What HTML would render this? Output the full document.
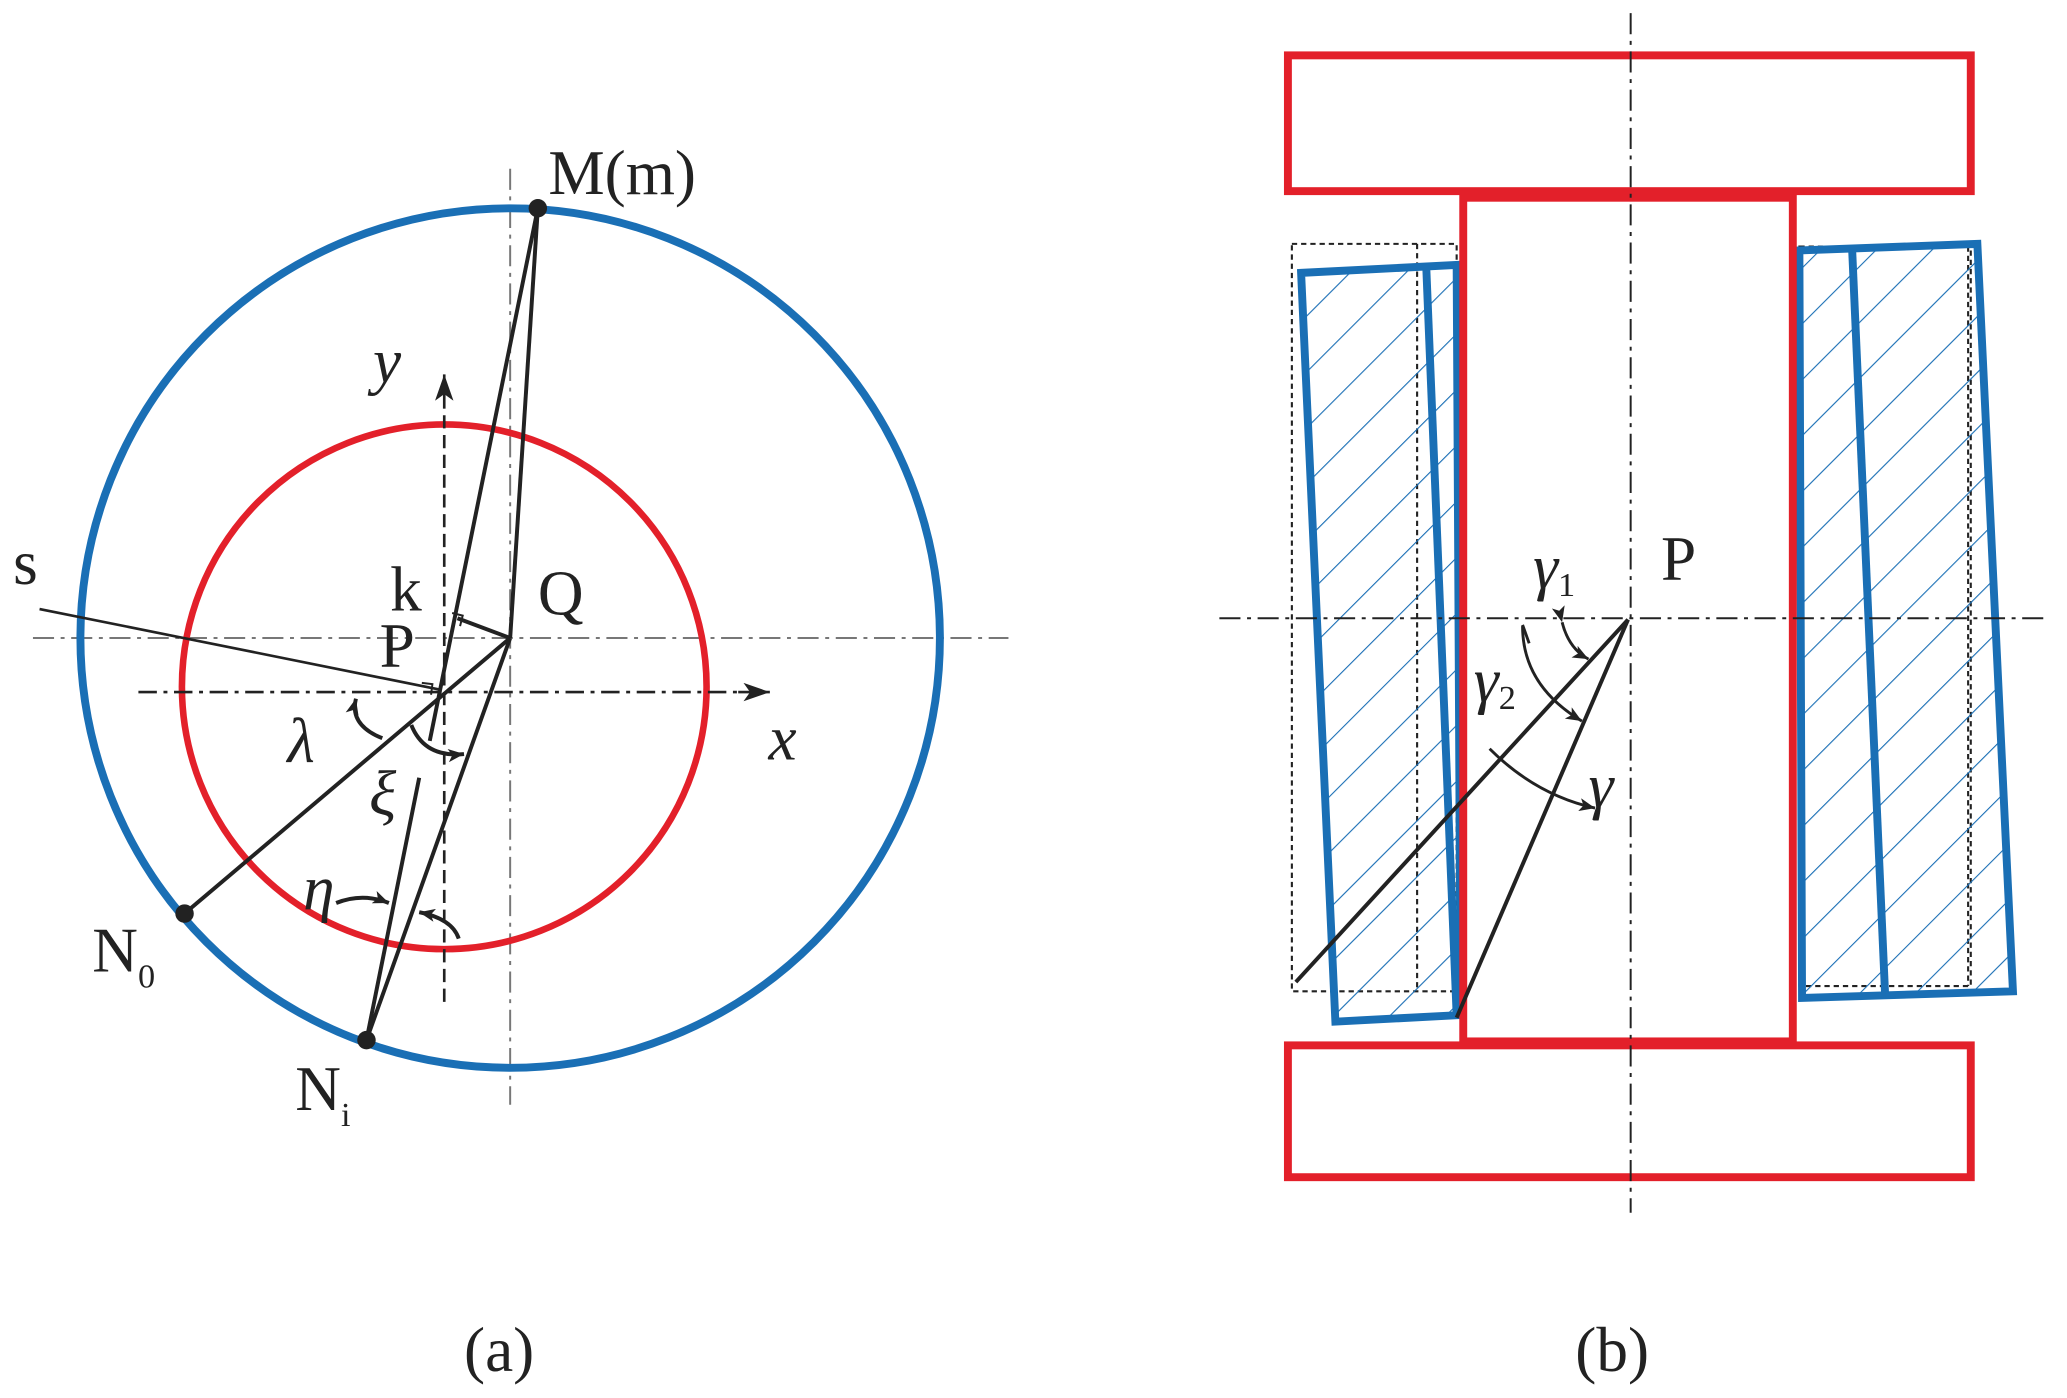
<!DOCTYPE html>
<html><head><meta charset="utf-8"><style>html,body{margin:0;padding:0;background:#fff}svg{display:block}</style></head>
<body>
<svg width="2067" height="1398" viewBox="0 0 1568 1060.5" preserveAspectRatio="none" xmlns="http://www.w3.org/2000/svg" font-family="Liberation Serif, serif">
<defs>
<pattern id="h" patternUnits="userSpaceOnUse" width="30" height="30" patternTransform="rotate(-45)">
<line x1="0" y1="0" x2="30" y2="0" stroke="#1a6fb5" stroke-width="1.6"/>
</pattern>
<marker id="ar2" viewBox="0 0 20 14" markerWidth="20" markerHeight="14" refX="20" refY="7" orient="auto" markerUnits="userSpaceOnUse"><path d="M0,0 L20,7 L0,14 L5,7 z" fill="#222"/></marker>
<marker id="sa" viewBox="0 0 12 10" markerWidth="12" markerHeight="10" refX="12" refY="5" orient="auto" markerUnits="userSpaceOnUse"><path d="M0,0 L12,5 L0,10 L3,5 z" fill="#222"/></marker>
</defs>
<!-- panel a -->
<g stroke="#777" stroke-width="1.5" stroke-dasharray="16,5,3,5" fill="none">
<line x1="25" y1="484" x2="765" y2="484"/>
<line x1="387" y1="128" x2="387" y2="838"/>
</g>
<circle cx="387" cy="484" r="326" fill="none" stroke="#1a6fb5" stroke-width="6"/>
<circle cx="337" cy="521" r="199" fill="none" stroke="#e3202a" stroke-width="5"/>
<g stroke="#222" stroke-width="2" fill="none">
<line x1="105" y1="525" x2="560" y2="525" stroke-dasharray="14,5,3,5"/>
<line x1="560" y1="525" x2="584" y2="525" marker-end="url(#ar2)"/>
<line x1="337" y1="760" x2="337" y2="310" stroke-dasharray="10,5"/>
<line x1="337" y1="310" x2="337" y2="284" marker-end="url(#ar2)"/>
</g>
<g stroke="#222" stroke-width="3" fill="none">
<line x1="408" y1="158" x2="387" y2="484"/>
<line x1="408" y1="158" x2="326" y2="562"/>
<line x1="387" y1="484" x2="278" y2="789"/>
<line x1="278" y1="789" x2="318" y2="590"/>
<line x1="140" y1="693" x2="387" y2="484"/>
<line x1="30" y1="462" x2="333" y2="523" stroke-width="2"/>
<line x1="347" y1="469" x2="387" y2="484"/>
<path d="M343,465 l8,2 l-2,8" stroke-width="1.5"/>
<path d="M320,518 l8,1 l-1,8" stroke-width="1.5"/>
<path d="M290,560 q-25,-10 -20,-30" marker-end="url(#sa)"/>
<path d="M312,550 q10,25 40,22" marker-end="url(#sa)"/>
<path d="M255,685 q20,-8 40,0" marker-end="url(#sa)"/>
<path d="M348,712 q-5,-15 -30,-20" marker-end="url(#sa)"/>
</g>
<circle cx="408" cy="158" r="7" fill="#222"/>
<circle cx="140" cy="693" r="7" fill="#222"/>
<circle cx="278" cy="789" r="7" fill="#222"/>
<g fill="#222" font-size="48">
<text x="416" y="147">M(m)</text>
<text x="283" y="290" font-style="italic">y</text>
<text x="10" y="443">s</text>
<text x="296" y="463">k</text>
<text x="408" y="466">Q</text>
<text x="288" y="506">P</text>
<text x="583" y="576" font-style="italic">x</text>
<text x="218" y="578" font-style="italic">λ</text>
<text x="280" y="618" font-style="italic">ξ</text>
<text x="230" y="690" font-style="italic">η</text>
<text x="70" y="737">N<tspan font-size="26" dy="12">0</tspan></text>
<text x="224" y="842">N<tspan font-size="26" dy="12">i</tspan></text>
<text x="352" y="1040">(a)</text>
<text x="1195" y="1040">(b)</text>
</g>
<!-- panel b -->
<g fill="none" stroke="#222" stroke-width="1.6" stroke-dasharray="4,3">
<rect x="980" y="185" width="125" height="567"/>
<line x1="1075" y1="185" x2="1075" y2="752"/>
<rect x="1365" y="187" width="130" height="561"/>
<line x1="1493" y1="187" x2="1493" y2="748"/>
</g>
<polygon points="987,207 1105,201 1108,770 1013,775" fill="url(#h)" stroke="#1a6fb5" stroke-width="6"/>
<line x1="1082" y1="204" x2="1105" y2="770" stroke="#1a6fb5" stroke-width="6"/>
<polygon points="1365,190 1500,185 1527,752 1367,757" fill="url(#h)" stroke="#1a6fb5" stroke-width="6"/>
<line x1="1405" y1="189" x2="1430" y2="754" stroke="#1a6fb5" stroke-width="6"/>
<g fill="#fff" stroke="#e3202a" stroke-width="6">
<rect x="977" y="42" width="518" height="103"/>
<rect x="977" y="793" width="518" height="100"/>
<rect x="1110" y="150" width="250" height="640"/>
</g>
<g stroke="#222" stroke-width="1.5" stroke-dasharray="16,5,3,5" fill="none">
<line x1="1237" y1="10" x2="1237" y2="920"/>
<line x1="925" y1="469" x2="1550" y2="469"/>
</g>
<g stroke="#222" stroke-width="3" fill="none">
<line x1="1235" y1="470" x2="983" y2="745"/>
<line x1="1235" y1="470" x2="1105" y2="772"/>
</g>
<g stroke="#222" stroke-width="2.2" fill="none">
<path d="M1185,472 q5,20 20,28" marker-end="url(#sa)" marker-start="url(#sa)"/>
<path d="M1155,475 q0,45 45,72" marker-end="url(#sa)"/>
<path d="M1130,568 q35,35 80,45" marker-end="url(#sa)"/>
<path d="M1160,488 l-5,-14"/>
</g>
<g fill="#222" font-size="48">
<text x="1163" y="446" font-style="italic">γ<tspan font-size="26" font-style="normal" dy="6">1</tspan></text>
<text x="1260" y="440">P</text>
<text x="1118" y="532" font-style="italic">γ<tspan font-size="26" font-style="normal" dy="6">2</tspan></text>
<text x="1205" y="612" font-style="italic">γ</text>
</g>
</svg>
</body></html>
